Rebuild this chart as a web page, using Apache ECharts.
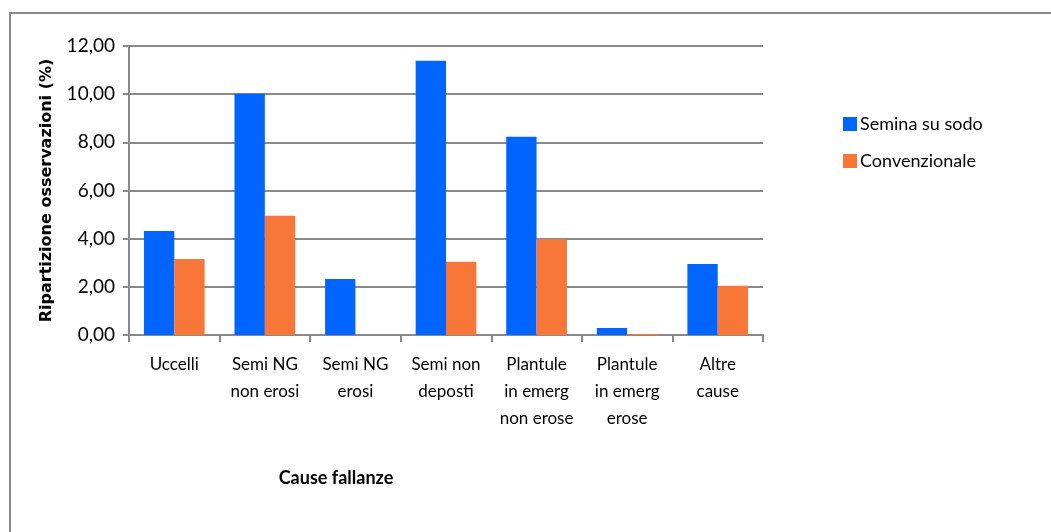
<!DOCTYPE html>
<html>
<head>
<meta charset="utf-8">
<script src="https://cdn.jsdelivr.net/npm/echarts@6/dist/echarts.min.js"></script>
<style>
  html, body { margin: 0; padding: 0; background: #ffffff; }
  #chart { width: 1051px; height: 532px; }
</style>
</head>
<body>
<div id="chart"></div>
<script>
// Causes of seedling gaps, by tillage method
const categories = [
  'Uccelli',
  'Semi NG\nnon erosi',
  'Semi NG\nerosi',
  'Semi non\ndeposti',
  'Plantule\nin emerg\nnon erose',
  'Plantule\nin emerg\nerose',
  'Altre\ncause'
];
const seminaSuSodo = [4.32, 10.02, 2.33, 11.39, 8.23, 0.29, 2.95];
const convenzionale = [3.16, 4.95, 0, 3.04, 3.98, 0.04, 2.05];
const yTicks = [0, 2, 4, 6, 8, 10, 12];

const FONT = 'Lato, "Open Sans", sans-serif';
const GRID_GREY = '#8a8a8a';

const chart = echarts.init(document.getElementById('chart'), null, { renderer: 'canvas' });

chart.setOption({
  backgroundColor: '#ffffff',
  animation: false,
  graphic: [
    {
      type: 'rect',
      shape: { x: 10, y: 13, width: 1100, height: 600 },
      style: { fill: 'none', stroke: GRID_GREY, lineWidth: 2 },
      silent: true
    },
    {
      type: 'text',
      x: 336,
      y: 478,
      style: {
        text: 'Cause fallanze',
        fontFamily: FONT,
        fontSize: 18,
        fontWeight: 'bold',
        fill: '#000000',
        align: 'center',
        verticalAlign: 'middle'
      }
    }
  ],
  legend: {
    orient: 'vertical',
    left: 838,
    top: 110,
    itemWidth: 14,
    itemHeight: 14,
    itemGap: 19,
    icon: 'rect',
    textStyle: { fontFamily: FONT, fontSize: 18, color: '#000000', padding: [0, 0, 0, -2] },
    data: ['Semina su sodo', 'Convenzionale']
  },
  grid: { left: 129, right: 288, top: 46, bottom: 197 },
  xAxis: {
    type: 'category',
    data: categories,
    axisLine: { show: true, lineStyle: { color: GRID_GREY, width: 2 } },
    axisTick: { show: true, length: 7, lineStyle: { color: GRID_GREY, width: 2 } },
    axisLabel: {
      interval: 0,
      margin: 16,
      fontFamily: FONT,
      fontSize: 17,
      lineHeight: 27,
      color: '#000000'
    }
  },
  yAxis: {
    type: 'value',
    min: 0,
    max: 12,
    interval: 2,
    name: 'Ripartizione osservazioni (%)',
    nameLocation: 'middle',
    nameGap: 74,
    nameTextStyle: { fontFamily: '"DejaVu Sans", sans-serif', fontSize: 16, fontWeight: 'bold', color: '#000000' },
    axisLine: { show: true, lineStyle: { color: GRID_GREY, width: 2 } },
    axisTick: { show: true, length: 6, lineStyle: { color: GRID_GREY, width: 2 } },
    splitLine: { show: true, lineStyle: { color: GRID_GREY, width: 2 } },
    axisLabel: {
      margin: 14,
      fontFamily: FONT,
      fontSize: 19,
      color: '#000000',
      formatter: v => yTicks.includes(v) ? v.toFixed(2).replace('.', ',') : ''
    }
  },
  series: [
    {
      name: 'Semina su sodo',
      type: 'bar',
      data: seminaSuSodo,
      barGap: '0%',
      barCategoryGap: '33%',
      itemStyle: { color: '#0064ff' }
    },
    {
      name: 'Convenzionale',
      type: 'bar',
      data: convenzionale,
      itemStyle: { color: '#f97639' }
    }
  ]
});
</script>
</body>
</html>
